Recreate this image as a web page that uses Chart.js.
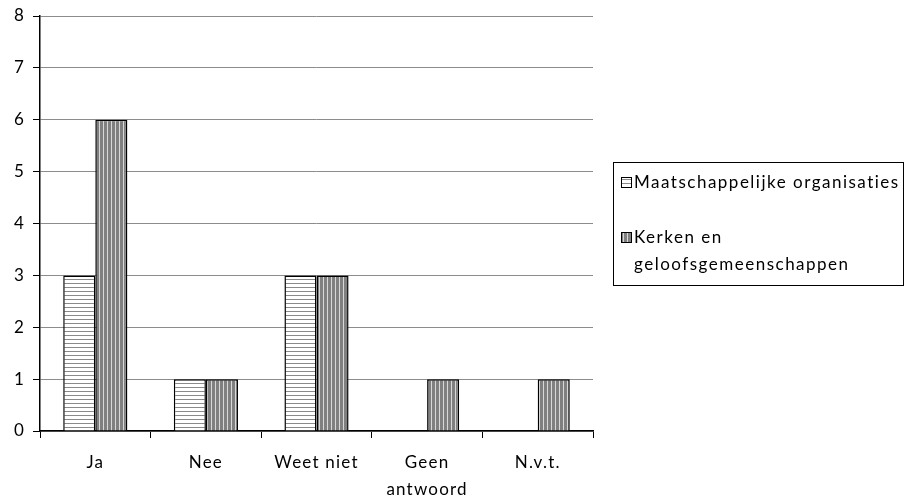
<!DOCTYPE html>
<html>
<head>
<meta charset="utf-8">
<script src="https://cdn.jsdelivr.net/npm/chart.js@4"></script>
<style>
  html, body { margin: 0; padding: 0; background: #fff; }
  #wrap { width: 905px; height: 499px; }
</style>
</head>
<body>
<div id="wrap"><canvas id="myChart" width="905" height="499"></canvas></div>
<script>
// Data
const categories = ["Ja", "Nee", "Weet niet", ["Geen", "antwoord"], "N.v.t."];
const seriesNames = ["Maatschappelijke organisaties", "Kerken en geloofsgemeenschappen"];
const organisaties = [3, 1, 3, 0, 0];
const kerken = [6, 1, 3, 1, 1];
const yTicks = [0, 1, 2, 3, 4, 5, 6, 7, 8];

// Patronen
function horizontalPattern() {
  const c = document.createElement("canvas");
  c.width = 4; c.height = 4;
  const g = c.getContext("2d");
  g.fillStyle = "#ffffff"; g.fillRect(0, 0, 4, 4);
  g.fillStyle = "#8a8a8a"; g.fillRect(0, 3, 4, 1);
  return g.createPattern(c, "repeat");
}
function verticalPattern() {
  const c = document.createElement("canvas");
  c.width = 4; c.height = 4;
  const g = c.getContext("2d");
  g.fillStyle = "#808080"; g.fillRect(0, 0, 4, 4);
  g.fillStyle = "#d8d8d8"; g.fillRect(3, 0, 1, 4);
  return g.createPattern(c, "repeat");
}
const fills = [horizontalPattern(), verticalPattern()];

const font = "Lato, 'Open Sans', sans-serif";

// iets ruimere letterafstand, zoals in het origineel
const spacing = {
  id: "spacing",
  beforeInit(chart) { chart.ctx.letterSpacing = "1.2px"; },
  beforeDraw(chart) { chart.ctx.letterSpacing = "1.2px"; }
};

// Legenda in een kader rechts
const boxLegend = {
  id: "boxLegend",
  afterDraw(chart) {
    const g = chart.ctx;
    g.save();
    g.letterSpacing = "1.5px";
    g.strokeStyle = "#000"; g.lineWidth = 1;
    g.strokeRect(613.5, 162.5, 290, 123);
    g.font = "17px " + font;
    g.fillStyle = "#000";
    g.textBaseline = "middle";
    const items = [
      { y: 183, lines: ["Maatschappelijke organisaties"] },
      { y: 238, lines: ["Kerken en", "geloofsgemeenschappen"] }
    ];
    items.forEach(function (it, i) {
      g.fillStyle = fills[i];
      g.fillRect(621, it.y - 6, 11, 11);
      g.strokeStyle = "#000";
      g.strokeRect(621.5, it.y - 5.5, 10, 10);
      g.fillStyle = "#000";
      it.lines.forEach(function (t, j) {
        g.fillText(t, 634, it.y + j * 27);
      });
    });
    g.restore();
  }
};

const ctx = document.getElementById("myChart");

new Chart(ctx, {
  type: "bar",
  data: {
    labels: categories,
    datasets: [
      {
        label: seriesNames[0],
        data: organisaties,
        backgroundColor: fills[0],
        borderColor: "#000",
        borderWidth: 1.5,
        barPercentage: 1,
        categoryPercentage: 0.58
      },
      {
        label: seriesNames[1],
        data: kerken,
        backgroundColor: fills[1],
        borderColor: "#000",
        borderWidth: 1.5,
        barPercentage: 1,
        categoryPercentage: 0.58
      }
    ]
  },
  options: {
    responsive: false,
    animation: false,
    layout: { padding: { left: 0, right: 312, top: 16, bottom: 0 } },
    plugins: {
      legend: { display: false },
      tooltip: { enabled: false }
    },
    scales: {
      x: {
        grid: { offset: true, drawOnChartArea: false, color: "#000", tickLength: 7 },
        border: { color: "#000", width: 1.5 },
        ticks: { color: "#000", font: { family: font, size: 17, lineHeight: 1.6 }, padding: 11, maxRotation: 0 },
        afterFit(scale) { scale.height = 68; }
      },
      y: {
        min: 0,
        max: 8,
        afterBuildTicks(scale) { scale.ticks = yTicks.map(function (v) { return { value: v }; }); },
        grid: { color: "#8c8c8c", tickLength: 7, tickColor: "#000" },
        border: { color: "#000", width: 1.5 },
        ticks: { color: "#000", font: { family: font, size: 17 }, padding: 8 },
        afterFit(scale) {
          scale.width = 40;
          scale.paddingTop = 0;
          scale.paddingBottom = 0;
        }
      }
    }
  },
  plugins: [spacing, boxLegend]
});
</script>
</body>
</html>
